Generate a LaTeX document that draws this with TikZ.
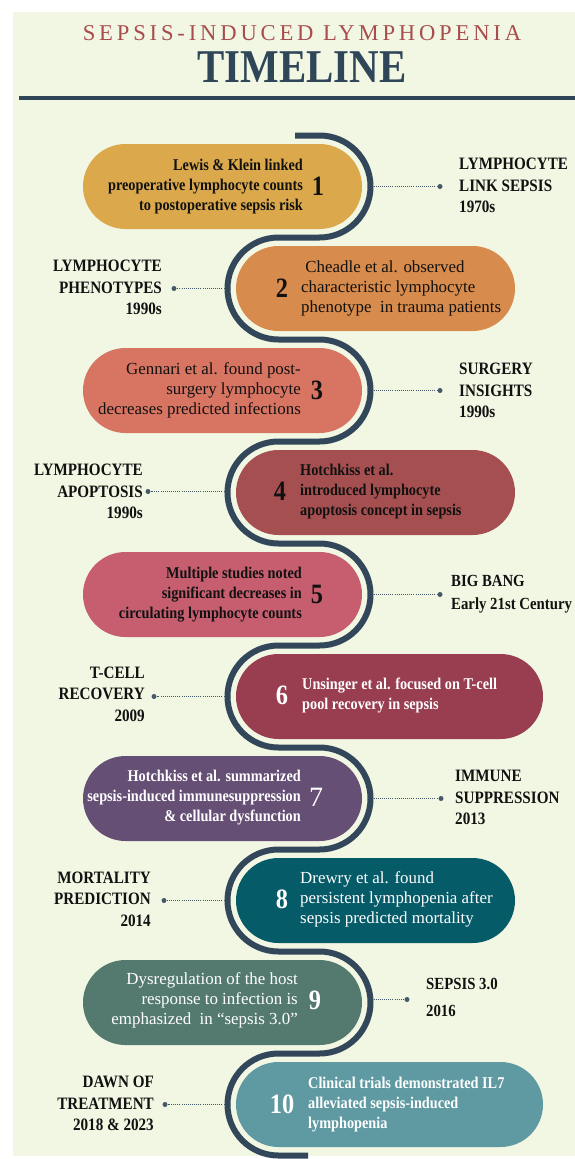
\documentclass[tikz,border=0pt]{standalone}
\usepackage{fontspec}
\setmainfont{Liberation Serif}
\newfontfamily\cnd[FakeStretch=0.87]{Liberation Serif}
\newfontfamily\ttl[LetterSpace=17]{Liberation Serif}
\definecolor{cream}{HTML}{F2F7E3}
\definecolor{titlered}{HTML}{A84D4D}
\definecolor{titledark}{HTML}{2F4558}
\definecolor{spinec}{HTML}{33475A}
\definecolor{connc}{HTML}{45596B}
\definecolor{ink}{HTML}{111111}
\definecolor{c1}{HTML}{DBA94C}
\definecolor{c2}{HTML}{D78B4C}
\definecolor{c3}{HTML}{D87462}
\definecolor{c4}{HTML}{A54F50}
\definecolor{c5}{HTML}{C65E70}
\definecolor{c6}{HTML}{983E50}
\definecolor{c7}{HTML}{664F75}
\definecolor{c8}{HTML}{065B69}
\definecolor{c9}{HTML}{547A70}
\definecolor{c10}{HTML}{5F9AA2}
\tikzset{
  pill/.style={rectangle, rounded corners=42.5pt, minimum height=85pt, inner sep=0pt, draw=none},
  boldtxt/.style={inner sep=0pt, font=\cnd\bfseries\fontsize{16.4}{20}\selectfont},
  regtxt/.style={inner sep=0pt, font=\fontsize{16.9}{20}\selectfont},
  numtxt/.style={inner sep=0pt, font=\cnd\bfseries\fontsize{28}{28}\selectfont},
  numreg/.style={inner sep=0pt, font=\fontsize{28}{28}\selectfont},
  lbl/.style={inner sep=0pt, text=ink, font=\cnd\bfseries\fontsize{17.4}{21.5}\selectfont},
  spine/.style={line width=6pt, draw=spinec},
  conn/.style={line width=0.9pt, draw=connc, dash pattern=on 1pt off 1.1pt},
  dotn/.style={circle, fill=connc, inner sep=0pt, minimum size=5pt}
}
\begin{document}
\begin{tikzpicture}[x=1pt,y=-1pt]
\useasboundingbox (0,0) rectangle (575,1159);
\fill[white] (0,0) rectangle (575,1159);
\fill[cream] (13,12) rectangle (575,1156);
% title
\node[inner sep=0pt, text=titlered, font=\ttl\fontsize{22.6}{23}\selectfont] (title) at (302,33) {SEPSIS-INDUCED LYMPHOPENIA};
\node[inner sep=0pt, text=titledark, font=\cnd\bfseries\fontsize{47}{47}\selectfont] (tl) at (302,67) {TIMELINE};
\draw[line width=4pt, titledark] (19,98) -- (575,98);
% boxes
\node[pill, fill=c1, minimum width=279pt] (b1) at (222.5,186.5) {};
\node[pill, fill=c2, minimum width=279pt] (b2) at (375.5,288.5) {};
\node[pill, fill=c3, minimum width=279pt] (b3) at (222.5,390.5) {};
\node[pill, fill=c4, minimum width=279pt] (b4) at (375.5,492.5) {};
\node[pill, fill=c5, minimum width=279pt] (b5) at (222.5,594.5) {};
\node[pill, fill=c6, minimum width=307pt] (b6) at (389.5,696.5) {};
\node[pill, fill=c7, minimum width=279pt] (b7) at (222.5,798.5) {};
\node[pill, fill=c8, minimum width=279pt] (b8) at (375.5,900.5) {};
\node[pill, fill=c9, minimum width=279pt] (b9) at (222.5,1002.5) {};
\node[pill, fill=c10, minimum width=307pt] (b10) at (389.5,1104.5) {};
% spine
\draw[spine] (295,135.5) -- (319.5,135.5)
  arc[start angle=-90,end angle=90,radius=51] -- (278.5,237.5)
  arc[start angle=270,end angle=90,radius=51] -- (319.5,339.5)
  arc[start angle=-90,end angle=90,radius=51] -- (278.5,441.5)
  arc[start angle=270,end angle=90,radius=51] -- (319.5,543.5)
  arc[start angle=-90,end angle=90,radius=51] -- (278.5,645.5)
  arc[start angle=270,end angle=90,radius=51] -- (319.5,747.5)
  arc[start angle=-90,end angle=90,radius=51] -- (278.5,849.5)
  arc[start angle=270,end angle=90,radius=51] -- (319.5,951.5)
  arc[start angle=-90,end angle=90,radius=51] -- (278.5,1053.5)
  arc[start angle=270,end angle=90,radius=51] -- (308,1155.5);
% box texts
\node[boldtxt, text=ink, align=right, anchor=east] (t1) at (303,186.5) {Lewis \& Klein linked\\preoperative lymphocyte counts\\to postoperative sepsis risk};
\node[numtxt, text=ink] (n1) at (318,186.5) {1};
\node[regtxt, text=ink, align=left, anchor=west] (t2) at (301,288.5) {\ Cheadle et al. observed\\characteristic lymphocyte\\phenotype\ \ in trauma patients};
\node[numtxt, text=ink] (n2) at (282,288.5) {2};
\node[regtxt, text=ink, align=right, anchor=east] (t3) at (301,390.5) {Gennari et al. found post-\\surgery lymphocyte\\decreases predicted infections};
\node[numtxt, text=ink] (n3) at (317,390.5) {3};
\node[boldtxt, text=ink, align=left, anchor=west] (t4) at (300,491.5) {Hotchkiss et al.\\introduced lymphocyte\\apoptosis concept in sepsis};
\node[numtxt, text=ink] (n4) at (280,491.5) {4};
\node[boldtxt, text=ink, align=right, anchor=east] (t5) at (302,594.5) {Multiple studies noted\\significant decreases in\\circulating lymphocyte counts};
\node[numtxt, text=ink] (n5) at (317,594.5) {5};
\node[boldtxt, text=white, align=left, anchor=west] (t6) at (302,695.5) {Unsinger et al. focused on T-cell\\pool recovery in sepsis};
\node[numtxt, text=white] (n6) at (282,695.5) {6};
\node[boldtxt, text=white, align=right, anchor=east] (t7) at (301,797.5) {Hotchkiss et al. summarized\\sepsis-induced immunesuppression\\\& cellular dysfunction};
\node[numreg, text=white] (n7) at (316,797.5) {7};
\node[regtxt, text=white, align=left, anchor=west] (t8) at (300,899.5) {Drewry et al. found\\persistent lymphopenia after\\sepsis predicted mortality};
\node[numtxt, text=white] (n8) at (282,899.5) {8};
\node[regtxt, text=white, align=right, anchor=east] (t9) at (298,1000.5) {Dysregulation of the host\\response to infection is\\emphasized\ \ in “sepsis 3.0”};
\node[numtxt, text=white] (n9) at (315,1000.5) {9};
\node[boldtxt, text=white, align=left, anchor=west] (t10) at (308,1104.5) {Clinical trials demonstrated IL7\\alleviated sepsis-induced\\lymphopenia};
\node[numtxt, text=white] (n10) at (282,1104.5) {10};
% connector start points on the spine
\coordinate (s1) at (373.5,186.5);
\coordinate (s2) at (224.5,288.5);
\coordinate (s3) at (373.5,390.5);
\coordinate (s4) at (224.5,491.5);
\coordinate (s5) at (373.5,594.5);
\coordinate (s6) at (224.5,696.5);
\coordinate (s7) at (373.5,798.5);
\coordinate (s8) at (224.5,900.5);
\coordinate (s9) at (373.5,999.5);
\coordinate (s10) at (224.5,1104.5);
% dots
\node[dotn] (d1) at (440,186.5) {};
\node[dotn] (d2) at (174,288.5) {};
\node[dotn] (d3) at (440,390.5) {};
\node[dotn] (d4) at (148,491.5) {};
\node[dotn] (d5) at (440,594.5) {};
\node[dotn] (d6) at (154,696.5) {};
\node[dotn] (d7) at (441,798.5) {};
\node[dotn] (d8) at (164,900.5) {};
\node[dotn] (d9) at (407,999.5) {};
\node[dotn] (d10) at (165,1104.5) {};
\foreach \i in {1,...,10} { \draw[conn] (s\i) -- (d\i); }
% labels
\node[lbl, align=left, anchor=west] (l1) at (459,185.5) {LYMPHOCYTE\\LINK SEPSIS\\1970s};
\node[lbl, align=right, anchor=east] (l2) at (162,287.5) {LYMPHOCYTE\\PHENOTYPES\\1990s};
\node[lbl, align=left, anchor=west] (l3) at (459,390.5) {SURGERY\\INSIGHTS\\1990s};
\node[lbl, align=right, anchor=east] (l4) at (143,491.5) {LYMPHOCYTE\\APOPTOSIS\\1990s};
\node[lbl, align=left, anchor=west, font=\cnd\bfseries\fontsize{17}{23}\selectfont] (l5) at (451,594.5) {BIG BANG\\Early 21st Century};
\node[lbl, align=right, anchor=east] (l6) at (145,694) {T-CELL\\RECOVERY\\2009};
\node[lbl, align=left, anchor=west] (l7) at (455,797.5) {IMMUNE\\SUPPRESSION\\2013};
\node[lbl, align=right, anchor=east] (l8) at (151,899) {MORTALITY\\PREDICTION\\2014};
\node[lbl, align=left, anchor=west, font=\cnd\bfseries\fontsize{17}{27}\selectfont] (l9) at (426,997) {SEPSIS 3.0\\2016};
\node[lbl, align=right, anchor=east] (l10) at (154,1103.5) {DAWN OF\\TREATMENT\\2018 \& 2023};
\end{tikzpicture}
\end{document}
